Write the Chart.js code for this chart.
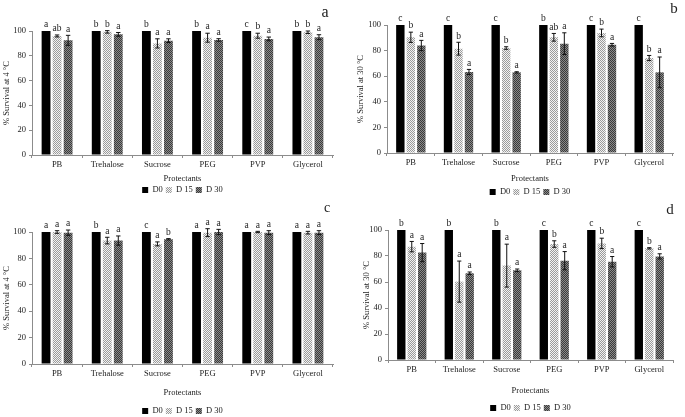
<!DOCTYPE html>
<html>
<head>
<meta charset="utf-8">
<script src="https://cdn.jsdelivr.net/npm/chart.js@4.4.1/dist/chart.umd.min.js"></script>
<style>
html, body { margin: 0; padding: 0; background: #fff; overflow: hidden; width: 685px; height: 417px; }
canvas { position: absolute; }
</style>
</head>
<body>
<canvas id="pa" width="340" height="207" style="left:0;top:0"></canvas>
<canvas id="pb" width="345" height="207" style="left:340px;top:0"></canvas>
<canvas id="pc" width="340" height="230" style="left:0;top:195px"></canvas>
<canvas id="pd" width="345" height="230" style="left:340px;top:195px"></canvas>
<script>
const categories = ['PB', 'Trehalose', 'Sucrose', 'PEG', 'PVP', 'Glycerol'];
const seriesNames = ['D0', 'D 15', 'D 30'];
const yTicks = [0, 20, 40, 60, 80, 100];

// a: survival at 4 °C
const aD0 = [100, 100, 100, 100, 100, 100];
const aD15 = [96, 99.3, 90, 94.6, 96.2, 99];
const aD30 = [92.5, 97.3, 92.2, 92.8, 93.6, 95];
const aErr15 = [0.8, 1, 3.7, 3.6, 2, 1];
const aErr30 = [4, 1.5, 1.5, 1, 1.5, 2];
const aSig0 = ['a', 'b', 'b', 'b', 'c', 'b'];
const aSig15 = ['ab', 'b', 'a', 'a', 'b', 'b'];
const aSig30 = ['a', 'a', 'a', 'a', 'a', 'a'];

// b: survival at 30 °C
const bD0 = [100, 100, 100, 100, 100, 100];
const bD15 = [90.4, 81.5, 82, 90.4, 93.8, 74.2];
const bD30 = [84, 63.3, 63, 85.4, 84.6, 63];
const bErr15 = [4, 5, 1, 3, 3, 2];
const bErr30 = [4, 2, 0.5, 8.5, 1, 12];
const bSig0 = ['c', 'c', 'c', 'b', 'c', 'c'];
const bSig15 = ['b', 'b', 'b', 'ab', 'b', 'b'];
const bSig30 = ['a', 'a', 'a', 'a', 'a', 'a'];

// c: survival at 4 °C
const cD0 = [100, 100, 100, 100, 100, 100];
const cD15 = [100, 93.5, 91, 99.5, 100, 99.5];
const cD30 = [99.5, 93.5, 94.5, 100, 99.5, 99.5];
const cErr15 = [1, 2.5, 1.5, 3, 0.5, 1];
const cErr30 = [2, 3.5, 0.5, 2, 1.5, 1.5];
const cSig0 = ['a', 'b', 'c', 'a', 'a', 'a'];
const cSig15 = ['a', 'a', 'a', 'a', 'a', 'a'];
const cSig30 = ['a', 'a', 'b', 'a', 'a', 'a'];

// d: survival at 30 °C
const dD0 = [100, 100, 100, 100, 100, 100];
const dD15 = [87.2, 60.3, 72.6, 89.2, 89.7, 85.9];
const dD30 = [82.6, 66.7, 69, 76.4, 75.6, 79.7];
const dErr15 = [4, 15.8, 16.5, 2.5, 4, 0.5];
const dErr30 = [7, 1, 1, 7, 4, 2];
const dSig0 = ['b', 'b', 'b', 'c', 'c', 'c'];
const dSig15 = ['a', 'a', 'a', 'b', 'b', 'b'];
const dSig30 = ['a', 'a', 'a', 'a', 'a', 'a'];

const SERIF = "'Liberation Serif', 'Times New Roman', serif";
const FS = 8.5;

function makePattern(ctx, c1, c2) {
    const t = document.createElement('canvas');
    t.width = 2; t.height = 2;
    const g = t.getContext('2d');
    g.fillStyle = c1; g.fillRect(0, 0, 2, 2);
    g.fillStyle = c2; g.fillRect(0, 0, 1, 1); g.fillRect(1, 1, 1, 1);
    return ctx.createPattern(t, 'repeat');
}

const errorBars = {
    id: 'errorBars',
    afterDatasetsDraw(chart) {
        const ctx = chart.ctx;
        const y = chart.scales.y;
        ctx.save();
        chart.data.datasets.forEach((ds, i) => {
            const meta = chart.getDatasetMeta(i);
            meta.data.forEach((bar, j) => {
                const v = ds.data[j];
                const e = ds.err ? ds.err[j] : 0;
                const cap = bar.width * 0.25;
                if (e > 0) {
                    const y1 = y.getPixelForValue(v + e);
                    const y2 = y.getPixelForValue(v - e);
                    ctx.strokeStyle = '#111';
                    ctx.lineWidth = 1;
                    ctx.beginPath();
                    ctx.moveTo(bar.x, y1); ctx.lineTo(bar.x, y2);
                    ctx.moveTo(bar.x - cap, y1); ctx.lineTo(bar.x + cap, y1);
                    ctx.moveTo(bar.x - cap, y2); ctx.lineTo(bar.x + cap, y2);
                    ctx.stroke();
                }
                ctx.fillStyle = '#222';
                ctx.font = '9.5px ' + SERIF;
                ctx.textAlign = 'center';
                ctx.textBaseline = 'bottom';
                ctx.fillText(ds.sig[j], bar.x, y.getPixelForValue(v + e) - 1.5);
            });
        });
        ctx.restore();
    }
};

const panelLetter = {
    id: 'panelLetter',
    afterDraw(chart) {
        const o = chart.options.plugins.panelLetter;
        const ctx = chart.ctx;
        ctx.save();
        ctx.fillStyle = '#222';
        ctx.font = o.size + 'px ' + SERIF;
        ctx.textAlign = 'center';
        ctx.textBaseline = 'middle';
        ctx.fillText(o.text, o.x, o.y);
        ctx.restore();
    }
};

// g: chart-area geometry inside each canvas
function drawPanel(id, letter, ytitle, d0, d15, d30, e15, e30, s0, s15, s30, g) {
    const canvas = document.getElementById(id);
    const ctx = canvas.getContext('2d');
    const legendPad = 3;
    const legendH = FS + legendPad + 10;
    const xAxisH = g.legendC - FS / 2 - legendPad;
    const titlePadBottom = xAxisH - FS * 1.2 / 2 - g.titleC;
    const padBottom = canvas.height - g.bottom - xAxisH - legendH;
    const axisColor = '#8c8c8c';
    new Chart(canvas, {
        type: 'bar',
        data: {
            labels: categories,
            datasets: [
                { label: seriesNames[0], data: d0, sig: s0, backgroundColor: '#000' },
                { label: seriesNames[1], data: d15, err: e15, sig: s15, backgroundColor: makePattern(ctx, '#f2f2f2', '#9a9a9a') },
                { label: seriesNames[2], data: d30, err: e30, sig: s30, backgroundColor: makePattern(ctx, '#8a8a8a', '#3a3a3a') }
            ]
        },
        options: {
            responsive: false,
            animation: false,
            devicePixelRatio: 1,
            categoryPercentage: 0.66,
            barPercentage: 0.8,
            layout: { padding: { top: g.top, left: 0, right: canvas.width - g.right, bottom: padBottom } },
            scales: {
                x: {
                    grid: { drawOnChartArea: false, tickLength: 3, color: axisColor },
                    border: { color: axisColor },
                    ticks: { color: '#222', font: { family: SERIF, size: FS }, padding: 2, maxRotation: 0 },
                    title: { display: true, text: 'Protectants', color: '#222', font: { family: SERIF, size: FS }, padding: { top: 0, bottom: titlePadBottom } },
                    afterFit(s) { s.height = xAxisH; }
                },
                y: {
                    min: 0, max: 100,
                    afterBuildTicks(s) { s.ticks = yTicks.map(v => ({ value: v })); },
                    grid: { drawOnChartArea: false, tickLength: 3, color: axisColor },
                    border: { color: axisColor },
                    ticks: { color: '#222', font: { family: SERIF, size: FS }, padding: 3 },
                    title: { display: true, text: ytitle, color: '#222', font: { family: SERIF, size: FS }, padding: { top: g.ytitleX - FS * 0.6, bottom: 0 } },
                    afterFit(s) { s.width = g.left; }
                }
            },
            plugins: {
                legend: {
                    position: 'bottom',
                    fullSize: false,
                    labels: { boxWidth: 6, boxHeight: 6, padding: legendPad, color: '#222', font: { family: SERIF, size: FS } }
                },
                tooltip: { enabled: false },
                panelLetter: { text: letter, x: g.lx, y: g.ly, size: g.ls }
            }
        },
        plugins: [errorBars, panelLetter]
    });
}

drawPanel('pa', 'a', '% Survival at 4 °C', aD0, aD15, aD30, aErr15, aErr30, aSig0, aSig15, aSig30,
    { left: 32, right: 333, top: 31, bottom: 155, titleC: 24, legendC: 35, ytitleX: 7, lx: 325, ly: 13, ls: 16 });
drawPanel('pb', 'b', '% Survival at 30 °C', bD0, bD15, bD30, bErr15, bErr30, bSig0, bSig15, bSig30,
    { left: 47, right: 333, top: 25, bottom: 153, titleC: 26, legendC: 39, ytitleX: 21, lx: 334, ly: 9, ls: 15 });
drawPanel('pc', 'c', '% Survival at 4 °C', cD0, cD15, cD30, cErr15, cErr30, cSig0, cSig15, cSig30,
    { left: 32, right: 333, top: 37, bottom: 169, titleC: 29, legendC: 47, ytitleX: 7, lx: 327, ly: 13, ls: 14 });
drawPanel('pd', 'd', '% Survival at 30 °C', dD0, dD15, dD30, dErr15, dErr30, dSig0, dSig15, dSig30,
    { left: 48, right: 333, top: 35, bottom: 165, titleC: 31, legendC: 48, ytitleX: 27, lx: 330, ly: 15, ls: 15 });
</script>
</body>
</html>
